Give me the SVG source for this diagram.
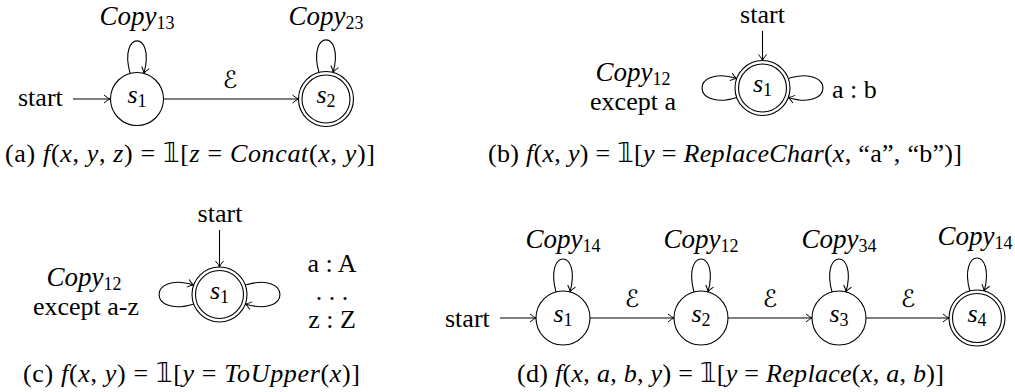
<svg xmlns="http://www.w3.org/2000/svg" width="1015" height="392" viewBox="0 0 1015 392">
<style>
.t{font-family:"Liberation Serif","Times New Roman","DejaVu Serif",serif;font-size:26px;fill:#000}
.i{font-style:italic}
.n{font-style:normal}
.lb{font-size:27px}
.sub{font-size:18px}
.sc{font-family:"DejaVu Serif","DejaVu Sans",serif;font-size:24px;fill:#000}
.bb{font-family:"DejaVu Sans","DejaVu Serif",sans-serif;font-style:normal}
.st{fill:#fff;stroke:#000;stroke-width:1.1}
.ln{fill:none;stroke:#000;stroke-width:1.1;marker-end:url(#arr)}
</style>
<defs>
<marker id="arr" markerUnits="userSpaceOnUse" orient="auto" refX="0" refY="0" markerWidth="12" markerHeight="12" overflow="visible">
<path d="M -6,-4 Q -2,-0.6 0,0 Q -2,0.6 -6,4" fill="none" stroke="#000" stroke-width="1"/>
</marker>
</defs>
<rect width="1015" height="392" fill="#fff"/>

<g id="connectors">
<line class="ln" x1="73" y1="99" x2="110" y2="99"/>
<path class="ln" d="M 130.1,73.4 C 118,30 156,30 143.9,73.4"/>
<line class="ln" x1="163.5" y1="99" x2="298.5" y2="99"/>
<path class="ln" d="M 318.9,72.4 C 307,29 345,29 333.1,72.4"/>
<line class="ln" x1="762.5" y1="31" x2="762.5" y2="60.5"/>
<path class="ln" d="M 736.7,97.4 C 690.5,112 690.5,64 736.7,78.6"/>
<path class="ln" d="M 788.3,78.6 C 834.5,64 834.5,112 788.3,97.4"/>
<line class="ln" x1="219.5" y1="230" x2="219.5" y2="267"/>
<path class="ln" d="M 193.7,303.9 C 147.5,318.5 147.5,270.5 193.7,285.1"/>
<path class="ln" d="M 245.3,285.1 C 291.5,270.5 291.5,318.5 245.3,303.9"/>
<line class="ln" x1="500" y1="318" x2="536" y2="318"/>
<path class="ln" d="M 556,291.9 C 544,248 582,248 570,291.9"/>
<line class="ln" x1="590" y1="318" x2="674" y2="318"/>
<path class="ln" d="M 694,291.9 C 682,248 720,248 708,291.9"/>
<line class="ln" x1="728" y1="318" x2="812" y2="318"/>
<path class="ln" d="M 832,291.9 C 820,248 858,248 846,291.9"/>
<line class="ln" x1="866" y1="318" x2="949" y2="318"/>
<path class="ln" d="M 969.8,291 C 958,247 996,247 984.2,291"/>
</g>

<g id="edge-labels">
<text class="t i lb" x="137" y="25" text-anchor="middle">Copy<tspan class="sub n" dy="4">13</tspan></text>
<text class="t i lb" x="326" y="25" text-anchor="middle">Copy<tspan class="sub n" dy="4">23</tspan></text>
<text class="sc" x="230" y="88" text-anchor="middle">ℰ</text>
<text class="t i lb" x="633" y="81" text-anchor="middle">Copy<tspan class="sub n" dy="4">12</tspan></text>
<text class="t" x="633" y="110" text-anchor="middle">except a</text>
<text class="t" x="832" y="98">a : b</text>
<text class="t i lb" x="84" y="286" text-anchor="middle">Copy<tspan class="sub n" dy="4">12</tspan></text>
<text class="t" x="86" y="315" text-anchor="middle">except a-z</text>
<text class="t" x="332" y="272" text-anchor="middle">a : A</text>
<text class="t" x="332" y="300" text-anchor="middle">. . .</text>
<text class="t" x="332" y="328" text-anchor="middle">z : Z</text>
<text class="t i lb" x="563" y="248" text-anchor="middle">Copy<tspan class="sub n" dy="4">14</tspan></text>
<text class="t i lb" x="701" y="248" text-anchor="middle">Copy<tspan class="sub n" dy="4">12</tspan></text>
<text class="t i lb" x="839" y="248" text-anchor="middle">Copy<tspan class="sub n" dy="4">34</tspan></text>
<text class="t i lb" x="975" y="245" text-anchor="middle">Copy<tspan class="sub n" dy="4">14</tspan></text>
<text class="sc" x="632" y="307" text-anchor="middle">ℰ</text>
<text class="sc" x="770" y="307" text-anchor="middle">ℰ</text>
<text class="sc" x="908" y="307" text-anchor="middle">ℰ</text>
</g>

<g id="start-labels">
<text class="t" x="18" y="106">start</text>
<text class="t" x="762.5" y="23" text-anchor="middle">start</text>
<text class="t" x="220" y="222" text-anchor="middle">start</text>
<text class="t" x="445" y="327">start</text>
</g>

<g id="node-a-s1">
<circle class="st" cx="137" cy="99" r="26.5"/>
<text class="t i" x="137" y="103" text-anchor="middle">s<tspan class="sub n" dy="4">1</tspan></text>
</g>
<g id="node-a-s2">
<circle class="st" cx="326" cy="99" r="27.5"/>
<circle class="st" cx="326" cy="99" r="24"/>
<text class="t i" x="326" y="103" text-anchor="middle">s<tspan class="sub n" dy="4">2</tspan></text>
</g>
<g id="node-b-s1">
<circle class="st" cx="762.5" cy="88" r="27.5"/>
<circle class="st" cx="762.5" cy="88" r="24"/>
<text class="t i" x="762.5" y="92" text-anchor="middle">s<tspan class="sub n" dy="4">1</tspan></text>
</g>
<g id="node-c-s1">
<circle class="st" cx="219.5" cy="294.5" r="27.5"/>
<circle class="st" cx="219.5" cy="294.5" r="24"/>
<text class="t i" x="219.5" y="298.5" text-anchor="middle">s<tspan class="sub n" dy="4">1</tspan></text>
</g>
<g id="node-d-s1">
<circle class="st" cx="563" cy="318" r="27"/>
<text class="t i" x="563" y="322" text-anchor="middle">s<tspan class="sub n" dy="4">1</tspan></text>
</g>
<g id="node-d-s2">
<circle class="st" cx="701" cy="318" r="27"/>
<text class="t i" x="701" y="322" text-anchor="middle">s<tspan class="sub n" dy="4">2</tspan></text>
</g>
<g id="node-d-s3">
<circle class="st" cx="839" cy="318" r="27"/>
<text class="t i" x="839" y="322" text-anchor="middle">s<tspan class="sub n" dy="4">3</tspan></text>
</g>
<g id="node-d-s4">
<circle class="st" cx="977" cy="318" r="28"/>
<circle class="st" cx="977" cy="318" r="24.5"/>
<text class="t i" x="977" y="322" text-anchor="middle">s<tspan class="sub n" dy="4">4</tspan></text>
</g>

<g id="captions">
<text class="t" x="5" y="162" textLength="370" lengthAdjust="spacing">(a) <tspan class="i">f</tspan>(<tspan class="i">x</tspan>, <tspan class="i">y</tspan>, <tspan class="i">z</tspan>) = <tspan class="bb">𝟙</tspan>[<tspan class="i">z</tspan> = <tspan class="i">Concat</tspan>(<tspan class="i">x</tspan>, <tspan class="i">y</tspan>)]</text>
<text class="t" x="488" y="162" textLength="474" lengthAdjust="spacing">(b) <tspan class="i">f</tspan>(<tspan class="i">x</tspan>, <tspan class="i">y</tspan>) = <tspan class="bb">𝟙</tspan>[<tspan class="i">y</tspan> = <tspan class="i">ReplaceChar</tspan>(<tspan class="i">x</tspan>, “a”, “b”)]</text>
<text class="t" x="23" y="382" textLength="337" lengthAdjust="spacing">(c) <tspan class="i">f</tspan>(<tspan class="i">x</tspan>, <tspan class="i">y</tspan>) = <tspan class="bb">𝟙</tspan>[<tspan class="i">y</tspan> = <tspan class="i">ToUpper</tspan>(<tspan class="i">x</tspan>)]</text>
<text class="t" x="517" y="382" textLength="427" lengthAdjust="spacing">(d) <tspan class="i">f</tspan>(<tspan class="i">x</tspan>, <tspan class="i">a</tspan>, <tspan class="i">b</tspan>, <tspan class="i">y</tspan>) = <tspan class="bb">𝟙</tspan>[<tspan class="i">y</tspan> = <tspan class="i">Replace</tspan>(<tspan class="i">x</tspan>, <tspan class="i">a</tspan>, <tspan class="i">b</tspan>)]</text>
</g>
</svg>
